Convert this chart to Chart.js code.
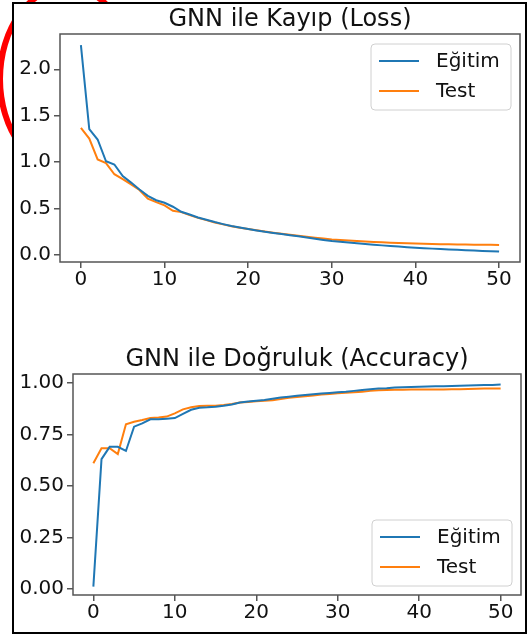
<!DOCTYPE html>
<html>
<head>
<meta charset="utf-8">
<script src="https://cdn.jsdelivr.net/npm/chart.js@4/dist/chart.umd.min.js"></script>
<style>
  body { margin: 0; background: #fff; }
  #page { position: relative; width: 527px; height: 637px; overflow: hidden; }
  #mark { position: absolute; left: -3px; top: -16px; width: 140px; height: 190px;
          border: 6px solid #f00; border-radius: 50%; box-sizing: border-box; z-index: 0; }
  #frame { position: absolute; left: 12px; top: 2px; width: 515px; height: 632px;
           border: 2px solid #000; box-sizing: border-box; background: #fff; z-index: 1; }
  .panel { position: absolute; left: 0; width: 527px; z-index: 2; }
</style>
</head>
<body>
<div id="page">
  <div id="mark"></div>
  <div id="frame"></div>
  <div class="panel" style="top:0;height:318px"><canvas id="loss" width="527" height="318"></canvas></div>
  <div class="panel" style="top:318px;height:319px"><canvas id="acc" width="527" height="319"></canvas></div>
</div>
<script>
const epochs = [0,1,2,3,4,5,6,7,8,9,10,11,12,13,14,15,16,17,18,19,20,21,22,23,24,25,
  26,27,28,29,30,31,32,33,34,35,36,37,38,39,40,41,42,43,44,45,46,47,48,49,50];

const trainLoss = [2.26,1.355,1.244,1.01,0.975,0.85,0.78,0.706,0.638,0.59,0.563,0.52,0.466,0.437,0.405,0.38,
  0.355,0.333,0.312,0.297,0.28,0.265,0.25,0.238,0.226,0.214,0.202,0.19,0.176,0.162,0.15,0.142,0.134,
  0.126,0.118,0.111,0.104,0.097,0.091,0.085,0.079,0.074,0.069,0.064,0.06,0.056,0.052,0.048,0.044,0.04,0.037];
const testLoss = [1.37,1.254,1.03,0.99,0.87,0.817,0.76,0.70,0.606,0.57,0.534,0.477,0.462,0.43,0.40,0.376,
  0.35,0.33,0.31,0.294,0.28,0.266,0.253,0.241,0.23,0.219,0.208,0.197,0.186,0.177,0.168,0.162,0.156,
  0.151,0.146,0.141,0.137,0.133,0.129,0.126,0.123,0.121,0.119,0.117,0.115,0.114,0.113,0.112,0.111,0.11,0.108];

const trainAcc = [0.011,0.63,0.69,0.69,0.67,0.788,0.804,0.824,0.824,0.827,0.83,0.85,0.87,0.88,0.882,0.885,
  0.89,0.896,0.905,0.91,0.914,0.918,0.924,0.93,0.934,0.938,0.942,0.946,0.949,0.952,0.955,0.958,0.962,
  0.966,0.97,0.973,0.975,0.978,0.98,0.981,0.982,0.983,0.984,0.985,0.986,0.987,0.988,0.989,0.99,0.991,0.993];
const testAcc = [0.61,0.683,0.683,0.655,0.80,0.812,0.82,0.83,0.833,0.837,0.853,0.872,0.882,0.888,0.89,0.89,
  0.893,0.898,0.905,0.908,0.911,0.914,0.917,0.922,0.928,0.932,0.936,0.94,0.944,0.947,0.95,0.953,0.955,
  0.958,0.962,0.965,0.966,0.967,0.968,0.969,0.969,0.969,0.969,0.969,0.97,0.97,0.971,0.972,0.973,0.973,0.974];

const seriesNames = ['Eğitim', 'Test'];
const xTicks = [0, 10, 20, 30, 40, 50];
const lossTicks = [0, 0.5, 1.0, 1.5, 2.0];
const accTicks = [0, 0.25, 0.5, 0.75, 1.0];

const FONT = 'DejaVu Sans';
const BLUE = '#1f77b4';
const ORANGE = '#ff7f0e';
const SPINE = '#555';

// box around the plot area, like matplotlib spines
const spines = {
  id: 'spines',
  beforeDatasetsDraw(chart) {
    const { ctx, chartArea: a } = chart;
    ctx.save();
    ctx.strokeStyle = SPINE;
    ctx.lineWidth = 1.5;
    ctx.strokeRect(a.left, a.top, a.right - a.left, a.bottom - a.top);
    ctx.restore();
  }
};

// legend box drawn inside the axes
const innerLegend = {
  id: 'innerLegend',
  afterDatasetsDraw(chart, args, opts) {
    const { ctx, chartArea: a } = chart;
    const w = 140, h = 66;
    const x = a.right - 9 - w;
    const y = opts.corner === 'top' ? a.top + 10 : a.bottom - 9 - h;
    ctx.save();
    ctx.beginPath();
    ctx.roundRect(x, y, w, h, 4);
    ctx.fillStyle = 'rgba(255,255,255,0.8)';
    ctx.fill();
    ctx.strokeStyle = '#d0d0d0';
    ctx.lineWidth = 1;
    ctx.stroke();
    ctx.font = '20px ' + FONT;
    ctx.textBaseline = 'middle';
    chart.data.datasets.forEach((ds, i) => {
      const ly = y + 17 + i * 30;
      ctx.strokeStyle = ds.borderColor;
      ctx.lineWidth = 2;
      ctx.beginPath();
      ctx.moveTo(x + 8, ly);
      ctx.lineTo(x + 48, ly);
      ctx.stroke();
      ctx.fillStyle = '#111';
      ctx.fillText(ds.label, x + 65, ly + 1);
    });
    ctx.restore();
  }
};

function makeChart(id, title, train, test, yTicks, yMin, yMax, digits, opt) {
  return new Chart(document.getElementById(id), {
    type: 'line',
    data: {
      datasets: [
        { label: seriesNames[0], data: epochs.map((e, i) => ({ x: e, y: train[i] })), borderColor: BLUE },
        { label: seriesNames[1], data: epochs.map((e, i) => ({ x: e, y: test[i] })), borderColor: ORANGE }
      ]
    },
    options: {
      responsive: false,
      animation: false,
      devicePixelRatio: 1,
      layout: { padding: { left: 0, right: opt.right, top: 0, bottom: 0 } },
      elements: {
        point: { radius: 0 },
        line: { borderWidth: 2, tension: 0, fill: false }
      },
      scales: {
        x: {
          type: 'linear', min: -2.5, max: 52.5,
          afterBuildTicks: s => { s.ticks = xTicks.map(v => ({ value: v })); },
          afterFit: s => { s.height = opt.xh; },
          border: { display: false },
          grid: { drawOnChartArea: false, drawTicks: true, tickLength: 6, tickColor: SPINE, lineWidth: 1.5 },
          ticks: { padding: 0, color: '#111', font: { family: FONT, size: 20 }, maxRotation: 0 }
        },
        y: {
          type: 'linear', min: yMin, max: yMax,
          afterBuildTicks: s => { s.ticks = yTicks.map(v => ({ value: v })); },
          afterFit: s => { s.width = opt.yw; },
          border: { display: false },
          grid: { drawOnChartArea: false, drawTicks: true, tickLength: 6, tickColor: SPINE, lineWidth: 1.5 },
          ticks: { padding: 3, color: '#111', font: { family: FONT, size: 20 },
                   callback: v => v.toFixed(digits) }
        }
      },
      plugins: {
        legend: { display: false },
        tooltip: { enabled: false },
        title: {
          display: true, text: title, fullSize: false, color: '#111',
          font: { family: FONT, size: 24, weight: 'normal' },
          padding: { top: opt.tt, bottom: opt.tb }
        },
        innerLegend: { corner: opt.corner }
      }
    },
    plugins: [spines, innerLegend]
  });
}

makeChart('loss', 'GNN ile Kayıp (Loss)', trainLoss, testLoss, lossTicks, -0.075, 2.38, 1,
  { right: 7, xh: 56, yw: 60, tt: 5.2, tb: 0, corner: 'top' });
makeChart('acc', 'GNN ile Doğruluk (Accuracy)', trainAcc, testAcc, accTicks, -0.03, 1.044, 2,
  { right: 6, xh: 42, yw: 73, tt: 27.2, tb: 0, corner: 'bottom' });
</script>
</body>
</html>
